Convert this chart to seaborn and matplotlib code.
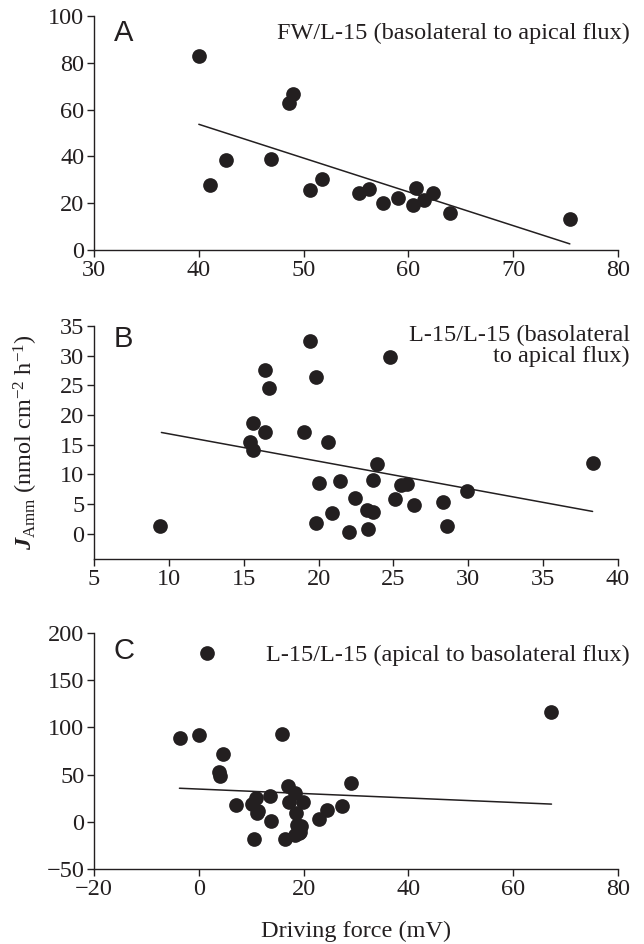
import numpy as np
import pandas as pd
import matplotlib
matplotlib.use("Agg")
import matplotlib.pyplot as plt
import seaborn as sns

# ==================== data ====================
# A: FW/L-15 (basolateral to apical flux)
a_x = [40.0, 41.1, 42.6, 46.9, 48.6, 49.0, 50.6, 51.8, 55.3, 56.2,
       57.6, 59.0, 60.4, 60.7, 61.5, 62.3, 64.0, 75.4]
a_y = [82.8, 27.9, 38.5, 39.0, 63.0, 66.5, 25.6, 30.5, 24.2, 26.1,
       20.1, 22.2, 19.2, 26.4, 21.2, 24.4, 16.0, 13.1]
a_fit_x = [40.0, 75.4]
a_fit_y = [53.7, 2.6]

# B: L-15/L-15 (basolateral to apical flux)
b_x = [9.4, 19.4, 24.8, 16.4, 19.8, 16.7, 15.6, 16.4, 19.0, 15.4,
       15.6, 20.6, 23.9, 38.3, 20.0, 21.4, 23.6, 25.5, 25.9, 29.9,
       22.4, 25.1, 26.4, 28.3, 23.2, 23.6, 20.9, 19.8, 28.6, 22.0, 23.3]
b_y = [1.2, 32.5, 29.8, 27.6, 26.4, 24.5, 18.6, 17.1, 17.2, 15.4,
       14.1, 15.4, 11.7, 11.9, 8.5, 8.9, 9.1, 8.2, 8.3, 7.1,
       6.0, 5.9, 4.8, 5.3, 4.0, 3.7, 3.4, 1.7, 1.3, 0.2, 0.7]
b_fit_x = [9.5, 38.3]
b_fit_y = [17.05, 3.73]

# C: L-15/L-15 (apical to basolateral flux)
c_x = [1.6, 67.3, -3.6, 0.1, 15.8, 4.7, 3.9, 4.1, 29.0, 17.0,
       18.4, 13.5, 11.0, 7.1, 10.1, 11.3, 11.1, 17.2, 19.8, 18.6,
       24.5, 27.3, 23.0, 13.7, 18.8, 19.5, 19.4, 18.4, 19.2, 10.5, 16.5]
c_y = [178.5, 116.3, 88.5, 92.4, 93.5, 72.0, 52.5, 48.6, 41.0, 37.5,
       30.5, 27.0, 25.5, 18.0, 19.0, 12.0, 9.5, 20.5, 20.5, 9.3,
       13.0, 17.2, 3.2, 0.5, -3.2, -4.0, -10.5, -13.5, -12.0, -18.5, -18.5]
c_fit_x = [-3.7, 67.3]
c_fit_y = [35.6, 18.8]

panels = [
    ("A", "FW/L-15 (basolateral to apical flux)", a_x, a_y, a_fit_x, a_fit_y,
     (30, 80), (0, 100), [30, 40, 50, 60, 70, 80], [0, 20, 40, 60, 80, 100]),
    ("B", "L-15/L-15 (basolateral\nto apical flux)", b_x, b_y, b_fit_x, b_fit_y,
     (5, 40), (-4.3, 35), [5, 10, 15, 20, 25, 30, 35, 40], [0, 5, 10, 15, 20, 25, 30, 35]),
    ("C", "L-15/L-15 (apical to basolateral flux)", c_x, c_y, c_fit_x, c_fit_y,
     (-20, 80), (-50, 200), [-20, 0, 20, 40, 60, 80], [-50, 0, 50, 100, 150, 200]),
]

# ==================== style ====================
sns.set_theme(style="ticks")
plt.rcParams['font.family'] = ['Liberation Serif', 'DejaVu Serif']
plt.rcParams['mathtext.fontset'] = 'custom'
plt.rcParams['mathtext.rm'] = 'Liberation Serif'
plt.rcParams['mathtext.it'] = 'Liberation Serif:italic:bold'
plt.rcParams['mathtext.bf'] = 'Liberation Serif:bold'

INK = "#231f20"
FS = 17.5
fig = plt.figure(figsize=(6.44, 9.44), dpi=100)

# axes boxes in figure fraction (left, bottom, width, height)
boxes = [
    (0.146, 0.7352, 0.8137, 0.2479),
    (0.146, 0.4078, 0.8137, 0.2468),
    (0.146, 0.0794, 0.8137, 0.2500),
]
# where the panel note sits (axes fraction) and how it is anchored
note_pos = [(0.927, "center"), (1.005, "top"), (0.907, "center")]
letter_top = [0.985, 1.005, 0.985]

for (letter, note, xs, ys, fx, fy, xlim, ylim, xt, yt), box, (ny, nva), lt in zip(
        panels, boxes, note_pos, letter_top):
    ax = fig.add_axes(box)
    df = pd.DataFrame({"x": xs, "y": ys})
    sns.scatterplot(data=df, x="x", y="y", ax=ax, s=112, color=INK,
                    edgecolor=INK, linewidth=0, zorder=3, clip_on=False)
    fit = pd.DataFrame({"x": fx, "y": fy})
    sns.lineplot(data=fit, x="x", y="y", ax=ax, color=INK, linewidth=1.1)

    ax.set_xlim(*xlim)
    ax.set_ylim(*ylim)
    ax.set_xticks(xt)
    ax.set_yticks(yt)
    ax.set_xlabel("")
    ax.set_ylabel("")
    sns.despine(ax=ax)
    for sp in ("left", "bottom"):
        ax.spines[sp].set_linewidth(1.0)
        ax.spines[sp].set_color(INK)
    ax.tick_params(axis="both", direction="out", length=5, width=1.0,
                   color=INK, labelsize=FS, labelcolor=INK, pad=2)

    ax.text(0.038, lt, letter, transform=ax.transAxes, ha="left", va="top",
            fontsize=21, family=["Liberation Sans", "DejaVu Sans"], color=INK)
    ax.text(1.022, ny, note, transform=ax.transAxes, ha="right", va=nva,
            fontsize=FS, color=INK, linespacing=1.0)

    if letter == "B":
        ax.set_ylabel(r"$J_{\mathrm{Amm}}$ (nmol cm$^{-2}$ h$^{-1}$)", fontsize=FS,
                      color=INK, labelpad=14)
    if letter == "C":
        ax.set_xlabel("Driving force (mV)", fontsize=FS, color=INK, labelpad=15)

fig.savefig("out.png", dpi=100)
